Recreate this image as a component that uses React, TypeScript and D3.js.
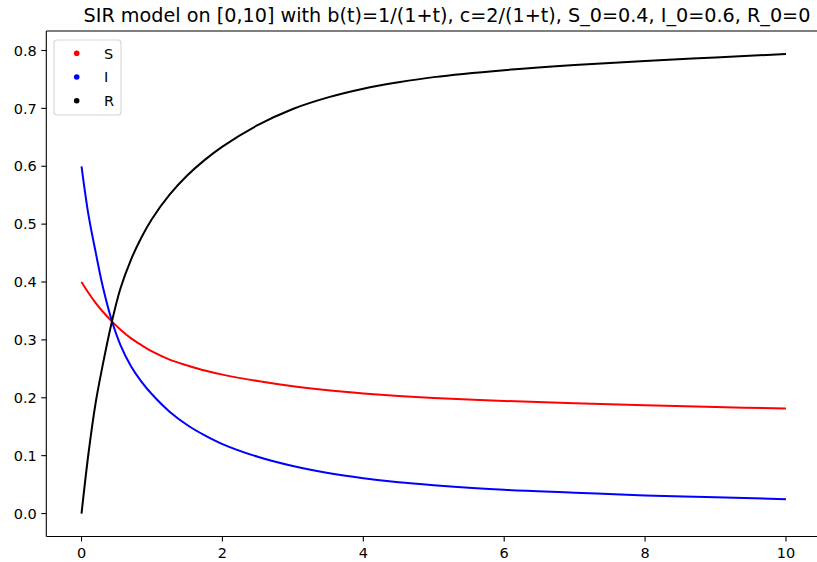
import React from "react";
import * as d3 from "d3";

const title = "SIR model on [0,10] with b(t)=1/(1+t), c=2/(1+t), S_0=0.4, I_0=0.6, R_0=0";
const tValues = [0, 0.1, 0.2, 0.3, 0.43, 0.55, 0.7, 0.85, 1.0, 1.25, 1.5, 1.75, 2.0, 2.5, 3.0, 3.5, 4.0, 4.5, 5.0, 6.0, 7.0, 8.0, 9.0, 10.0];
const sValues = [0.4, 0.381, 0.364, 0.349, 0.332, 0.318, 0.303, 0.291, 0.28, 0.266, 0.256, 0.247, 0.24, 0.229, 0.22, 0.213, 0.2075, 0.203, 0.1995, 0.1945, 0.1905, 0.187, 0.184, 0.1815];
const iValues = [0.6, 0.515, 0.452, 0.393, 0.333, 0.292, 0.255, 0.228, 0.206, 0.176, 0.153, 0.135, 0.12, 0.098, 0.082, 0.07, 0.061, 0.054, 0.049, 0.041, 0.036, 0.031, 0.028, 0.0247];
const rValues = [0, 0.105, 0.191, 0.256, 0.331, 0.388, 0.438, 0.477, 0.509, 0.551, 0.584, 0.611, 0.634, 0.671, 0.699, 0.719, 0.734, 0.745, 0.754, 0.766, 0.775, 0.782, 0.788, 0.794];
const seriesNames = ["S", "I", "R"];
const seriesColors = ["#ff0000", "#0000ff", "#000000"];
const xTicks = [0, 2, 4, 6, 8, 10];
const yTicks = [0.0, 0.1, 0.2, 0.3, 0.4, 0.5, 0.6, 0.7, 0.8];

export default function App() {
  const W = 817, H = 562;
  const left = 46.3, right = 821.2, top = 31, bottom = 536.5;
  const x = d3.scaleLinear().domain([-0.5, 10.5]).range([left, right]);
  const y = d3.scaleLinear().domain([-0.0397, 0.8337]).range([bottom, top]);
  const all = [sValues, iValues, rValues];
  const line = d3.line<number>()
    .x((_, i) => x(tValues[i]))
    .y((d) => y(d))
    .curve(d3.curveCatmullRom.alpha(0.5));
  const font = "DejaVu Sans, sans-serif";
  return (
    <svg width={W} height={H} style={{ position: "absolute", left: 0, top: 0, background: "#fff" }}>
      <rect x={0} y={0} width={W} height={H} fill="#fff" />
      <text x={447} y={22} textAnchor="middle" fontFamily={font} fontSize={19.2} fill="#000">{title}</text>
      {all.map((vals, k) => (
        <path key={k} d={line(vals) || ""} fill="none" stroke={seriesColors[k]} strokeWidth={2} />
      ))}
      <line x1={left} x2={left} y1={top} y2={bottom} stroke="#000" strokeWidth={1.1} />
      <line x1={left} x2={right} y1={bottom} y2={bottom} stroke="#000" strokeWidth={1.1} />
      <line x1={left} x2={right} y1={top} y2={top} stroke="#000" strokeWidth={1.1} />
      {xTicks.map((t) => (
        <g key={"x" + t}>
          <line x1={x(t)} x2={x(t)} y1={bottom} y2={bottom + 5} stroke="#000" strokeWidth={1.1} />
          <text x={x(t)} y={bottom + 21} textAnchor="middle" fontFamily={font} fontSize={14.5} fill="#000">{t}</text>
        </g>
      ))}
      {yTicks.map((v) => (
        <g key={"y" + v}>
          <line x1={left - 5} x2={left} y1={y(v)} y2={y(v)} stroke="#000" strokeWidth={1.1} />
          <text x={left - 9.5} y={y(v)} dy="0.36em" textAnchor="end" fontFamily={font} fontSize={14.5} fill="#000">{v.toFixed(1)}</text>
        </g>
      ))}
      <rect x={54} y={40} width={67} height={75} rx={3} fill="#fff" fillOpacity={0.8} stroke="#d6d6d6" strokeWidth={1.1} />
      {seriesNames.map((n, k) => (
        <g key={n}>
          <circle cx={76.7} cy={53.3 + k * 23.7} r={2.8} fill={seriesColors[k]} />
          <text x={104} y={53.3 + k * 23.7} dy="0.36em" fontFamily={font} fontSize={14.5} fill="#000">{n}</text>
        </g>
      ))}
    </svg>
  );
}
